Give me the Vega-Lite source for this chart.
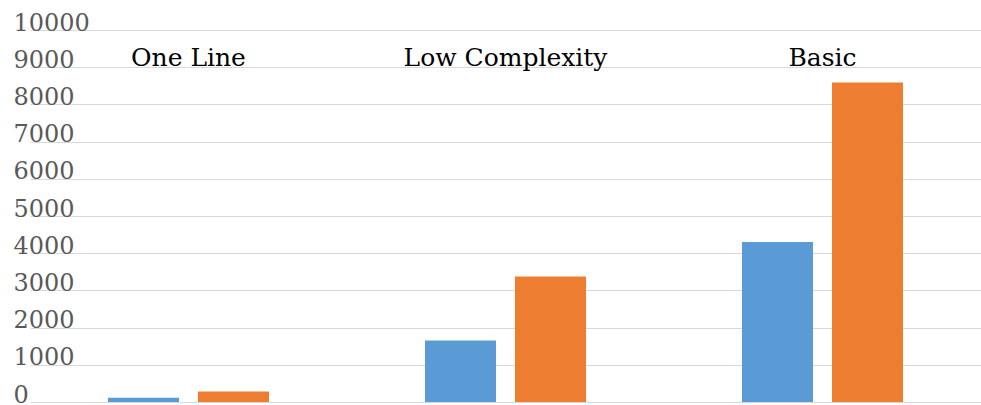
{
  "$schema": "https://vega.github.io/schema/vega-lite/v6.json",
  "width": 910,
  "height": 372,
  "autosize": {"type": "none"},
  "padding": {"left": 70, "top": 30, "right": 1, "bottom": 3},
  "background": "white",
  "config": {
    "view": {"stroke": null},
    "font": "DejaVu Serif",
    "text": {"font": "DejaVu Serif"},
    "axis": {"labelFont": "DejaVu Serif"}
  },
  "datasets": {
    "bars": [
      {"complexity": "One Line", "series": "Series1", "value": 115},
      {"complexity": "One Line", "series": "Series2", "value": 285},
      {"complexity": "Low Complexity", "series": "Series1", "value": 1655},
      {"complexity": "Low Complexity", "series": "Series2", "value": 3375},
      {"complexity": "Basic", "series": "Series1", "value": 4300},
      {"complexity": "Basic", "series": "Series2", "value": 8590}
    ],
    "groups": [
      {"complexity": "One Line"},
      {"complexity": "Low Complexity"},
      {"complexity": "Basic"}
    ]
  },
  "encoding": {
    "y": {
      "type": "quantitative",
      "scale": {"domain": [0, 10000], "nice": false, "zero": true},
      "axis": {
        "tickCount": 10,
        "format": "d",
        "grid": true,
        "gridColor": "#d9d9d9",
        "gridWidth": 1,
        "domain": false,
        "ticks": false,
        "tickSize": 0,
        "labelAlign": "left",
        "labelPadding": 57,
        "labelBaseline": "alphabetic",
        "labelFontSize": 24,
        "labelColor": "#595959",
        "labelFlush": false,
        "labelOverlap": false,
        "title": null
      }
    }
  },
  "layer": [
    {
      "data": {"name": "bars"},
      "mark": {"type": "bar"},
      "encoding": {
        "x": {
          "field": "complexity",
          "type": "nominal",
          "sort": null,
          "scale": {"domain": ["One Line", "Low Complexity", "Basic"], "range": [-40, 911], "paddingInner": 0, "paddingOuter": 0},
          "axis": null
        },
        "xOffset": {
          "field": "series",
          "type": "nominal",
          "sort": null,
          "scale": {"domain": ["Series1", "Series2"], "paddingInner": 0.211, "paddingOuter": 0.866}
        },
        "y": {"field": "value", "type": "quantitative"},
        "color": {
          "field": "series",
          "type": "nominal",
          "scale": {"domain": ["Series1", "Series2"], "range": ["#5B9BD5", "#ED7D31"]},
          "legend": null
        }
      }
    },
    {
      "data": {"name": "groups"},
      "mark": {"type": "text", "baseline": "alphabetic", "fontSize": 25, "color": "#000000", "dy": -1},
      "encoding": {
        "x": {"field": "complexity", "type": "nominal", "sort": null},
        "y": {"datum": 9000, "type": "quantitative"},
        "text": {"field": "complexity"}
      }
    }
  ]
}
